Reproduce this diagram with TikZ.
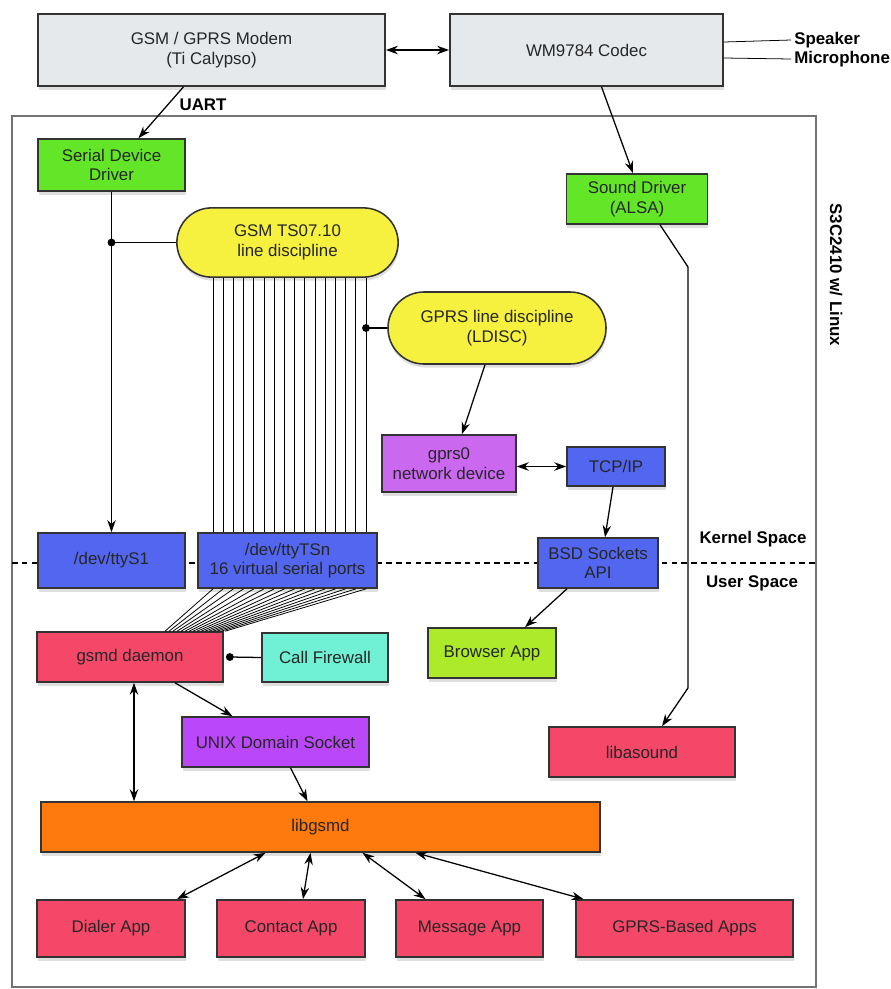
\documentclass[tikz,border=0pt]{standalone}
\usepackage{fontspec}
\setmainfont{Liberation Sans}
\usetikzlibrary{arrows.meta}
\usetikzlibrary{calc}
\usetikzlibrary{shapes.misc}
\usetikzlibrary{shadows}

\definecolor{hwgray}{RGB}{229,233,236}
\definecolor{drvgreen}{RGB}{100,230,40}
\definecolor{ldyellow}{RGB}{246,240,62}
\definecolor{devblue}{RGB}{82,102,240}
\definecolor{netpurple}{RGB}{202,104,240}
\definecolor{sockpurple}{RGB}{186,72,250}
\definecolor{appred}{RGB}{245,72,104}
\definecolor{fwcyan}{RGB}{112,240,212}
\definecolor{appgreen}{RGB}{172,234,42}
\definecolor{liborange}{RGB}{255,122,12}

\begin{document}
\begin{tikzpicture}[x=0.025cm, y=-0.025cm,
    font=\fontsize{12}{14}\selectfont,
    >={Stealth[length=8.5pt,width=6pt]},
    box/.style={draw=black!80, line width=1.1pt, align=center, inner sep=0pt,
      text=black!85,
      drop shadow={opacity=0.25, shadow xshift=0.5pt, shadow yshift=-2.5pt}},
    pill/.style={box, rounded rectangle},
    tag/.style={font=\fontsize{12}{14}\selectfont\bfseries},
    wire/.style={line width=0.9pt},
    thinwire/.style={line width=0.55pt}]

  \useasboundingbox (0,0) rectangle (891,989);

  % board frame and the kernel / user split
  \draw [black!55, line width=1pt] (12,116) rectangle (816,987);
  \coordinate (ksl) at (12,563);
  \coordinate (ksr) at (816,563);
  \draw [dash pattern=on 4pt off 3pt, line width=0.8pt] (ksl) -- (ksr);

  % hardware
  \node [box, fill=hwgray, minimum width=8.68cm, minimum height=1.8cm]
    (modem) at (211.5,50) {GSM / GPRS Modem\\(Ti Calypso)};
  \node [box, fill=hwgray, minimum width=6.83cm, minimum height=1.8cm]
    (codec) at (586.5,50) {WM9784 Codec};

  % kernel space
  \node [box, fill=drvgreen, minimum width=3.68cm, minimum height=1.3cm]
    (sdd) at (111.5,165) {Serial Device\\Driver};
  \node [box, fill=drvgreen, minimum width=3.53cm, minimum height=1.25cm]
    (sound) at (637,199) {Sound Driver\\(ALSA)};
  \node [pill, fill=ldyellow, minimum width=5.53cm, minimum height=1.73cm]
    (mux) at (287.5,242.5) {GSM TS07.10\\line discipline};
  \node [pill, fill=ldyellow, minimum width=5.45cm, minimum height=1.8cm]
    (ldisc) at (497,328) {GPRS line discipline\\(LDISC)};
  \node [box, fill=netpurple, minimum width=3.35cm, minimum height=1.43cm]
    (gprs0) at (449,463.5) {gprs0\\network device};
  \node [box, fill=devblue, minimum width=2.45cm, minimum height=0.98cm]
    (tcpip) at (616,466.5) {TCP/IP};
  \node [box, fill=devblue, minimum width=3cm, minimum height=1.25cm]
    (bsd) at (598,563) {BSD Sockets\\API};
  \node [box, fill=devblue, minimum width=3.68cm, minimum height=1.38cm]
    (ttyS1) at (111.5,560.5) {/dev/ttyS1};
  \node [box, fill=devblue, minimum width=4.48cm, minimum height=1.38cm]
    (ttyTSn) at (287.5,560.5) {/dev/ttyTSn\\16 virtual serial ports};

  % user space
  \node [box, fill=appgreen, minimum width=3.2cm, minimum height=1.25cm]
    (browser) at (492,653) {Browser App};
  \node [box, fill=appred, minimum width=4.65cm, minimum height=1.25cm]
    (gsmd) at (130,657) {gsmd daemon};
  \node [box, fill=fwcyan, minimum width=3.15cm, minimum height=1.23cm]
    (firewall) at (325,657.5) {Call Firewall};
  \node [box, fill=sockpurple, minimum width=4.68cm, minimum height=1.25cm]
    (unix) at (275.5,742) {UNIX Domain Socket};
  \node [box, fill=appred, minimum width=4.65cm, minimum height=1.25cm]
    (libasound) at (642,752) {libasound};
  \node [box, fill=liborange, minimum width=13.98cm, minimum height=1.25cm]
    (libgsmd) at (320.5,827) {libgsmd};
  \node [box, fill=appred, minimum width=3.7cm, minimum height=1.43cm]
    (dialer) at (111,928.5) {Dialer App};
  \node [box, fill=appred, minimum width=3.7cm, minimum height=1.43cm]
    (contact) at (291,928.5) {Contact App};
  \node [box, fill=appred, minimum width=3.68cm, minimum height=1.43cm]
    (message) at (469.5,928.5) {Message App};
  \node [box, fill=appred, minimum width=5.43cm, minimum height=1.43cm]
    (gprsapps) at (684.5,928.5) {GPRS-Based Apps};

  % plain labels
  \node [tag, anchor=west, inner sep=0pt] (spk) at (794,40) {Speaker};
  \node [tag, anchor=west, inner sep=0pt] (mic) at (794,59) {Microphone};
  \node [tag] (uart) at (203,105) {UART};
  \node [tag] (kernel) at (753,539) {Kernel Space};
  \node [tag] (user) at (752,583) {User Space};
  \node [tag, rotate=-90] (soc) at (836,275) {S3C2410 w/ Linux};

  % hardware links
  \draw [wire, <->] (modem.east) -- (codec.west);
  \draw [thinwire] ($(codec.east)+(0,-8)$) -- ($(spk.west)+(-3,0)$);
  \draw [thinwire] ($(codec.east)+(0,8)$) -- ($(mic.west)+(-3,0)$);
  \draw [wire, ->] ($(modem.south)+(-28,0)$) -- ($(sdd.north)+(27,0)$);
  \draw [wire, ->] ($(codec.south)+(15,0)$) -- ($(sound.north)+(-4,0)$);

  % audio path down to libasound
  \coordinate (abend) at (688,267);
  \coordinate (bbend) at (688,688);
  \draw [wire, ->] ($(sound.south)+(23,0)$) -- (abend) -- (bbend)
    -- ($(libasound.north)+(20,0)$);

  % serial port and the mux
  \draw [wire, ->] (sdd.south) -- (ttyS1.north);
  \draw [wire] (mux.west) -- (mux.west -| sdd.south);
  \fill (mux.west -| sdd.south) circle (2.8pt);

  % 16 virtual ports, fanned into gsmd
  \foreach \i in {0,...,15} {
    \coordinate (p\i) at ({213+10.2*\i},0);
    \coordinate (q\i) at ({165+4*\i},0);
    \draw [thinwire] (mux.south -| p\i) -- (ttyTSn.north -| p\i);
    \draw [thinwire] (ttyTSn.south -| p\i) -- (gsmd.north -| q\i);
  }

  % gprs path
  \draw [wire] (ldisc.west) -- (ldisc.west -| p15);
  \fill (ldisc.west -| p15) circle (2.8pt);
  \draw [wire, ->] ($(ldisc.south)+(-12,0)$) -- ($(gprs0.north)+(13,0)$);
  \draw [wire, <->] (tcpip.west -| gprs0.east) -- (tcpip.west);
  \draw [wire, ->] ($(tcpip.south)+(-3,0)$) -- ($(bsd.north)+(7,0)$);
  \draw [wire, ->] ($(bsd.south)+(-31,0)$) -- ($(browser.north)+(33,0)$);

  % gsmd and its clients
  \coordinate (fwdot) at ($(gsmd.east)+(6,0)$);
  \draw [wire] (firewall.west) -- (fwdot);
  \fill (fwdot) circle (2.8pt);
  \draw [wire, ->] ($(gsmd.south)+(45,0)$) -- ($(unix.north)+(-43,0)$);
  \draw [wire, <->] ($(gsmd.south)+(4,0)$) -- ($(libgsmd.north -| gsmd.south)+(4,0)$);
  \draw [wire, ->] ($(unix.south)+(15,0)$) -- ($(libgsmd.north)+(-13,0)$);
  \draw [wire, <->] ($(libgsmd.south)+(-55,0)$) -- ($(dialer.north)+(66,0)$);
  \draw [wire, <->] ($(libgsmd.south)+(-10,0)$) -- ($(contact.north)+(12,0)$);
  \draw [wire, <->] ($(libgsmd.south)+(42,0)$) -- ($(message.north)+(-44,0)$);
  \draw [wire, <->] ($(libgsmd.south)+(95,0)$) -- ($(gprsapps.north)+(-101,0)$);

\end{tikzpicture}
\end{document}
